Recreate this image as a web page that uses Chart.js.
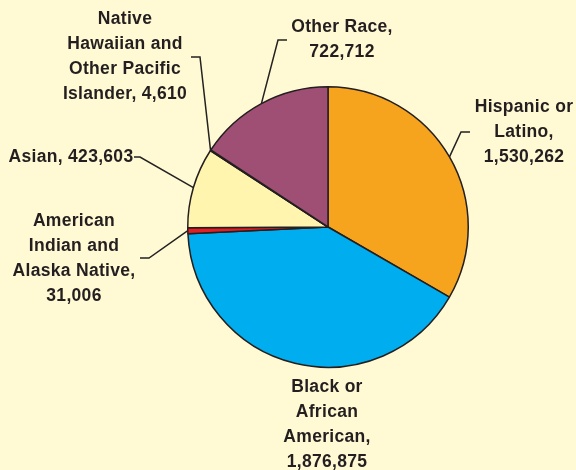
<!DOCTYPE html>
<html>
<head>
<meta charset="utf-8">
<script src="https://cdn.jsdelivr.net/npm/chart.js@4/dist/chart.umd.min.js"></script>
<style>
    html, body { margin: 0; padding: 0; background: #FFF9D4; }
    #wrap { width: 576px; height: 470px; }
</style>
</head>
<body>
<div id="wrap"><canvas id="pieChart"></canvas></div>
<script>
// Chart data (clockwise from 12 o'clock)
const categories = [
    'Hispanic or Latino',
    'Black or African American',
    'American Indian and Alaska Native',
    'Asian',
    'Native Hawaiian and Other Pacific Islander',
    'Other Race'
];
const populations = [1530262, 1876875, 31006, 423603, 4610, 722712];
const sliceColors = ['#F6A31E', '#00AEEF', '#E31E24', '#FFF5AF', '#3A2A30', '#9E4F73'];

// Label text lines for each slice
const labelLines = [
    ['Hispanic or', 'Latino,', '1,530,262'],
    ['Black or', 'African', 'American,', '1,876,875'],
    ['American', 'Indian and', 'Alaska Native,', '31,006'],
    ['Asian, 423,603'],
    ['Native', 'Hawaiian and', 'Other Pacific', 'Islander, 4,610'],
    ['Other Race,', '722,712']
];

// Label placement (canvas px): text centre x, first line y, leader elbow points
const labelLayout = [
    { x: 524, y: 107, leader: [[470, 132], [461, 132]] },
    { x: 327, y: 387, leader: null },
    { x: 74,  y: 221, leader: [[140, 258], [149, 258]] },
    { x: 71,  y: 157, leader: [[134, 157], [140, 157]] },
    { x: 125, y: 19,  leader: [[191, 57], [200, 57]] },
    { x: 342, y: 27,  leader: [[287, 40], [278, 40]] }
];

// Paint the page background behind the chart
const backgroundPlugin = {
    id: 'background',
    beforeDraw(chart) {
        const ctx = chart.ctx;
        ctx.save();
        ctx.fillStyle = '#FFF9D4';
        ctx.fillRect(0, 0, chart.width, chart.height);
        ctx.restore();
    }
};

// Draw the slice labels with leader lines to the arc midpoints
const labelPlugin = {
    id: 'sliceLabels',
    afterDraw(chart) {
        const ctx = chart.ctx;
        const arcs = chart.getDatasetMeta(0).data;
        ctx.save();
        ctx.strokeStyle = '#222222';
        ctx.lineWidth = 1.5;
        arcs.forEach((arc, i) => {
            const layout = labelLayout[i];
            if (!layout.leader) return;
            const mid = (arc.startAngle + arc.endAngle) / 2;
            const ex = arc.x + Math.cos(mid) * arc.outerRadius;
            const ey = arc.y + Math.sin(mid) * arc.outerRadius;
            ctx.beginPath();
            ctx.moveTo(layout.leader[0][0], layout.leader[0][1]);
            for (let k = 1; k < layout.leader.length; k++) {
                ctx.lineTo(layout.leader[k][0], layout.leader[k][1]);
            }
            ctx.lineTo(ex, ey);
            ctx.stroke();
        });

        ctx.fillStyle = '#231F20';
        ctx.font = 'bold 17.5px "Liberation Sans", Arial, sans-serif';
        ctx.textAlign = 'center';
        ctx.textBaseline = 'middle';
        if ('letterSpacing' in ctx) ctx.letterSpacing = '0.3px';
        labelLines.forEach((lines, i) => {
            const layout = labelLayout[i];
            lines.forEach((line, j) => {
                ctx.fillText(line, layout.x, layout.y + j * 25);
            });
        });
        ctx.restore();
    }
};

const ctx = document.getElementById('pieChart').getContext('2d');
window.pieChart = new Chart(ctx, {
    type: 'pie',
    data: {
        labels: categories,
        datasets: [{
            data: populations,
            backgroundColor: sliceColors,
            borderColor: '#231F20',
            borderWidth: 1.5
        }]
    },
    options: {
        responsive: true,
        maintainAspectRatio: false,
        animation: false,
        layout: {
            padding: { left: 187, right: 107, top: 86, bottom: 102 }
        },
        plugins: {
            legend: { display: false },
            tooltip: { enabled: false }
        }
    },
    plugins: [backgroundPlugin, labelPlugin]
});
</script>
</body>
</html>
